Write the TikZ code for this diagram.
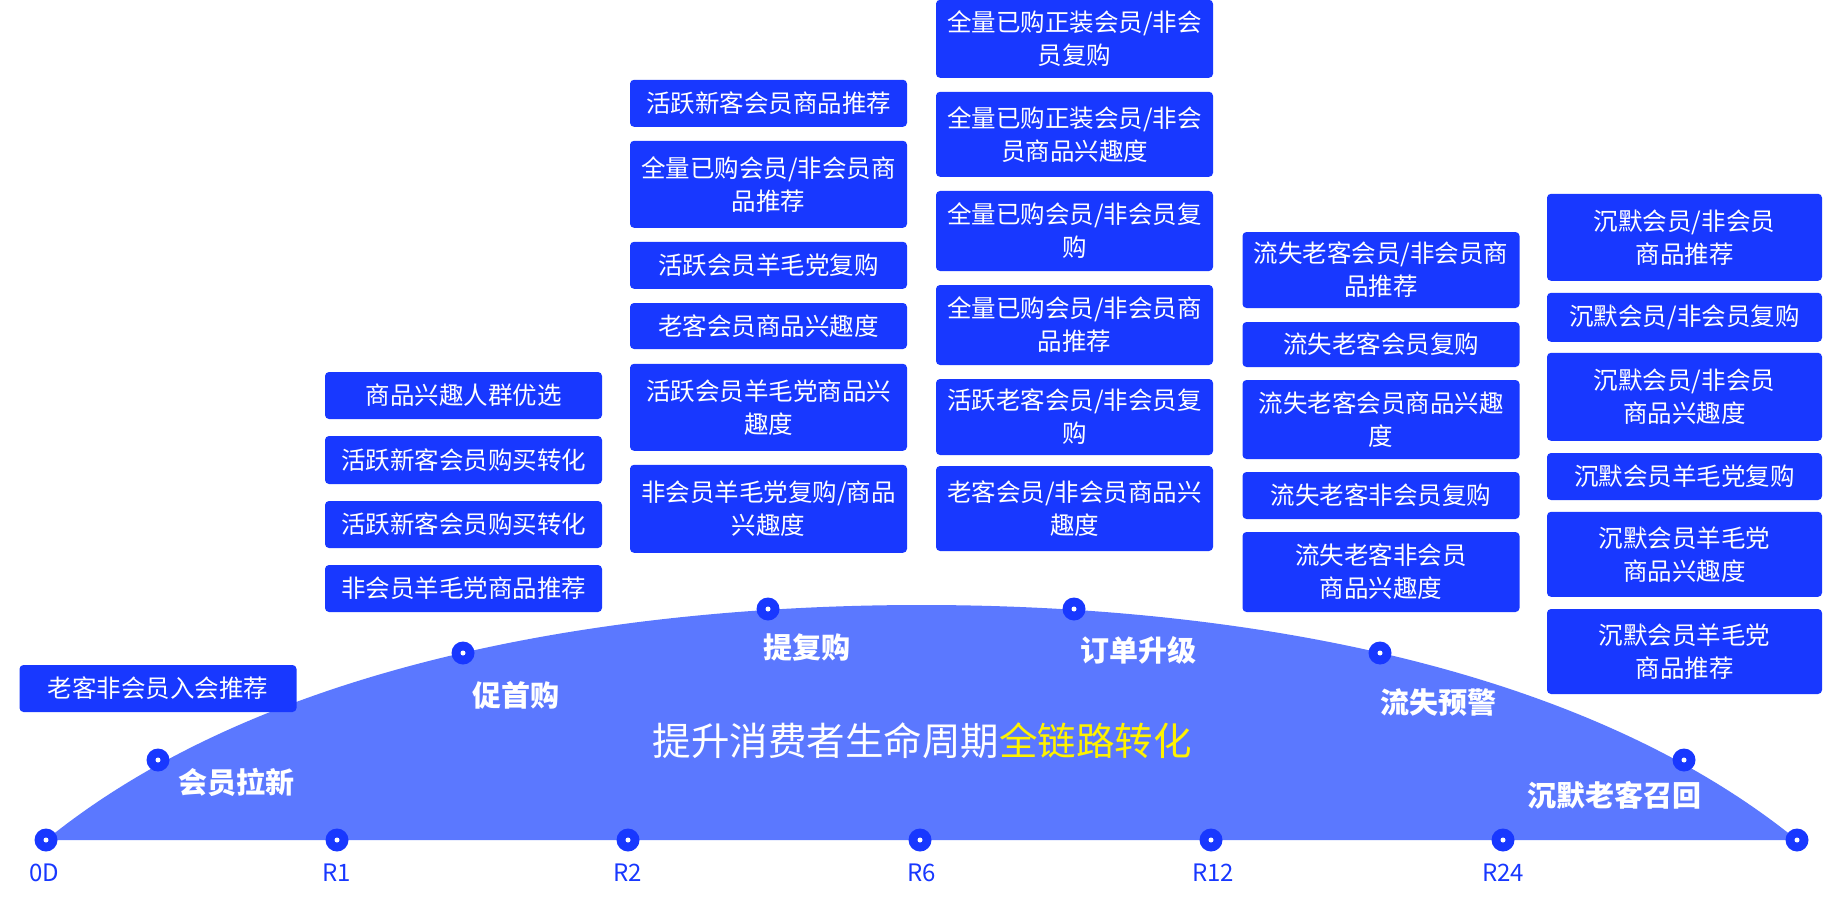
\documentclass[tikz,border=0pt]{standalone}
\usepackage{fontspec}
\setmainfont{Noto Sans CJK SC}
\definecolor{boxblue}{HTML}{1838FF}
\definecolor{archblue}{HTML}{5B78FF}
\definecolor{goldtext}{HTML}{FFF200}

\begin{document}
\begin{tikzpicture}[x=1pt, y=-1pt,
  card/.style={rectangle, rounded corners=4pt, fill=boxblue, text=white, inner sep=0pt,
    text width=265pt, minimum width=277pt, align=center, font=\fontsize{24.5}{33}\selectfont},
  stagedot/.style={circle, fill=boxblue, minimum size=23pt, inner sep=0pt,
    path picture={\fill[white] (path picture bounding box.center) circle (2.5pt);}},
  stagename/.style={text=white, font=\fontsize{29}{35}\selectfont\bfseries},
  daylabel/.style={text=boxblue, font=\fontsize{24}{28}\selectfont}]
\useasboundingbox (0,0) rectangle (1825,904);

% the arch
\fill[archblue] (46,840) .. controls (280,650) and (650,605) .. (921.5,605)
  .. controls (1193,605) and (1563,650) .. (1797,840) -- cycle;

\node[text=white, font=\fontsize{38.5}{44}\selectfont] (title) at (922,741)
  {提升消费者生命周期\textcolor{goldtext}{全链路转化}};

% time axis
\foreach \px [count=\i] in {46,337,628,920,1211,1503,1797}
  \node[stagedot] (d\i) at (\px,840) {};
\foreach \px/\lab [count=\i] in {44/0D,337/R1,628/R2,922/R6,1213/R12,1503/R24}
  \node[daylabel] (l\i) at (\px,873) {\lab};

% stages on the arch
\node[stagedot] (s1) at (158,760) {};
\node[stagedot] (s2) at (463,653) {};
\node[stagedot] (s3) at (768,609) {};
\node[stagedot] (s4) at (1074,609) {};
\node[stagedot] (s5) at (1380,653) {};
\node[stagedot] (s6) at (1684,760) {};
\node[stagename] (n1) at (236,782) {会员拉新};
\node[stagename] (n2) at (516,695) {促首购};
\node[stagename] (n3) at (807,647) {提复购};
\node[stagename] (n4) at (1138,650) {订单升级};
\node[stagename] (n5) at (1438,703) {流失预警};
\node[stagename] (n6) at (1614,795) {沉默老客召回};

% 会员拉新
\node[card, minimum height=47pt] (a1) at (158,688.5) {老客非会员入会推荐};

% 促首购
\node[card, minimum height=47pt] (b1) at (463.5,395.5) {商品兴趣人群优选};
\node[card, minimum height=48pt] (b2) at (463.5,460) {活跃新客会员购买转化};
\node[card, minimum height=47pt] (b3) at (463.5,524.5) {活跃新客会员购买转化};
\node[card, minimum height=47pt] (b4) at (463.5,588.5) {非会员羊毛党商品推荐};

% 提复购
\node[card, minimum height=47pt] (c1) at (768.5,103.3) {活跃新客会员商品推荐};
\node[card, minimum height=87pt] (c2) at (768.5,184.3) {全量已购会员/非会员商\\品推荐};
\node[card, minimum height=47pt] (c3) at (768.5,265.3) {活跃会员羊毛党复购};
\node[card, minimum height=46pt] (c4) at (768.5,326) {老客会员商品兴趣度};
\node[card, minimum height=87pt] (c5) at (768.5,407.3) {活跃会员羊毛党商品兴\\趣度};
\node[card, minimum height=88pt] (c6) at (768.5,508.8) {非会员羊毛党复购/商品\\兴趣度};

% 订单升级
\node[card, minimum height=78pt] (e1) at (1074.5,38.8) {全量已购正装会员/非会\\员复购};
\node[card, minimum height=85pt] (e2) at (1074.5,134.3) {全量已购正装会员/非会\\员商品兴趣度};
\node[card, minimum height=80pt] (e3) at (1074.5,231) {全量已购会员/非会员复\\购};
\node[card, minimum height=80pt] (e4) at (1074.5,325) {全量已购会员/非会员商\\品推荐};
\node[card, minimum height=76pt] (e5) at (1074.5,417) {活跃老客会员/非会员复\\购};
\node[card, minimum height=85pt] (e6) at (1074.5,508.5) {老客会员/非会员商品兴\\趣度};

% 流失预警
\node[card, minimum height=76pt] (f1) at (1381,270) {流失老客会员/非会员商\\品推荐};
\node[card, minimum height=45pt] (f2) at (1381,344.5) {流失老客会员复购};
\node[card, minimum height=79pt] (f3) at (1381,419.5) {流失老客会员商品兴趣\\度};
\node[card, minimum height=47pt] (f4) at (1381,495.5) {流失老客非会员复购};
\node[card, minimum height=80pt] (f5) at (1381,572) {流失老客非会员\\商品兴趣度};

% 沉默老客召回
\node[card, minimum height=87pt, minimum width=275pt] (g1) at (1684.5,237.3) {沉默会员/非会员\\商品推荐};
\node[card, minimum height=49pt, minimum width=275pt] (g2) at (1684.5,317.3) {沉默会员/非会员复购};
\node[card, minimum height=88pt, minimum width=275pt] (g3) at (1684.5,396.8) {沉默会员/非会员\\商品兴趣度};
\node[card, minimum height=47pt, minimum width=275pt] (g4) at (1684.5,476.5) {沉默会员羊毛党复购};
\node[card, minimum height=85pt, minimum width=275pt] (g5) at (1684.5,554.3) {沉默会员羊毛党\\商品兴趣度};
\node[card, minimum height=85pt, minimum width=275pt] (g6) at (1684.5,651.5) {沉默会员羊毛党\\商品推荐};

\end{tikzpicture}
\end{document}
